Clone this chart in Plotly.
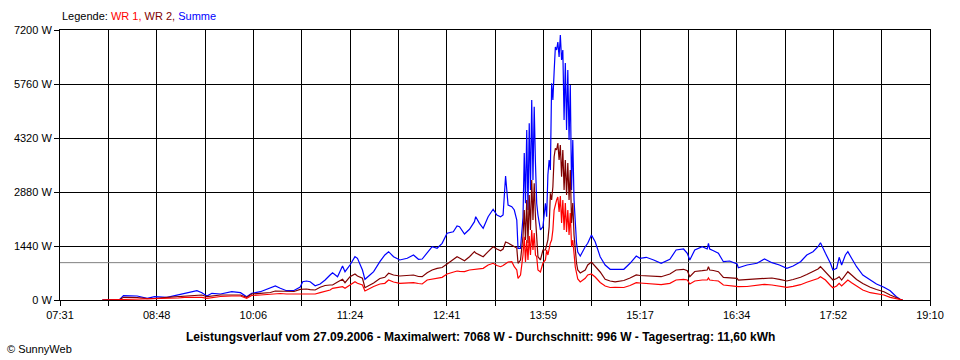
import plotly.graph_objects as go

# ---- data ----
times = [
    "08:05", "08:19", "08:22", "08:27", "08:33", "08:41", "08:47", "08:57", "09:06", "09:11",
    "09:21", "09:25", "09:29", "09:33", "09:40", "09:49", "09:56", "10:01", "10:05", "10:12",
    "10:20", "10:24", "10:28", "10:33", "10:39", "10:44", "10:46", "10:49", "10:52", "10:56",
    "11:00", "11:04", "11:08", "11:10", "11:14", "11:18", "11:20", "11:24", "11:28", "11:30",
    "11:34", "11:36", "11:40", "11:43", "11:48", "11:52", "11:55", "11:59", "12:04", "12:10",
    "12:15", "12:19", "12:22", "12:26", "12:30", "12:34", "12:38", "12:42", "12:47", "12:50",
    "12:52", "12:56", "13:00", "13:04", "13:05", "13:08", "13:11", "13:15", "13:19", "13:22",
    "13:25", "13:27", "13:29", "13:31", "13:34", "13:36", "13:38", "13:39", "13:41", "13:43",
    "13:44", "13:45", "13:46", "13:47", "13:48", "13:49", "13:50", "13:51", "13:52", "13:53",
    "13:54", "13:55", "13:57", "13:59", "14:01", "14:02", "14:03", "14:04", "14:05", "14:06",
    "14:07", "14:08", "14:09", "14:10", "14:11", "14:12", "14:13", "14:14", "14:15", "14:16",
    "14:17", "14:18", "14:19", "14:20", "14:21", "14:22", "14:23", "14:24", "14:25", "14:26",
    "14:27", "14:29", "14:33", "14:35", "14:38", "14:41", "14:45", "14:49", "14:53", "14:57",
    "15:04", "15:09", "15:14", "15:17", "15:22", "15:28", "15:34", "15:41", "15:46", "15:52",
    "15:55", "15:57", "16:01", "16:07", "16:11", "16:12", "16:13", "16:16", "16:20", "16:24",
    "16:29", "16:35", "16:36", "16:43", "16:51", "16:57", "17:03", "17:09", "17:15", "17:20",
    "17:26", "17:31", "17:36", "17:40", "17:42", "17:46", "17:50", "17:52", "17:55", "17:57",
    "17:59", "18:02", "18:04", "18:07", "18:11", "18:16", "18:22", "18:27", "18:33", "18:38",
    "18:43", "18:46", "18:48",
]

summe = [
    0, 13, 115, 115, 107, 45, 88, 72, 133, 179,
    248, 195, 107, 179, 160, 221, 195, 88, 179, 221,
    312, 373, 312, 248, 253, 347, 488, 507, 488, 381,
    427, 533, 667, 728, 621, 907, 755, 933, 1155, 1112,
    800, 552, 667, 755, 1021, 1200, 1288, 1155, 1067, 1112,
    1200, 1085, 1093, 1245, 1421, 1379, 1512, 1779, 1821, 1973,
    1955, 1760, 1885, 2088, 2221, 2045, 1912, 2221, 2419, 2267,
    2221, 2267, 3307, 2533, 2488, 2400, 2133, 1379, 1379, 2200,
    3920, 2579, 4533, 2400, 4712, 2933, 5333, 3200, 5155, 3653,
    2579, 2267, 1867, 1955, 2579, 2221, 3333, 3733, 3467, 5779,
    5333, 6080, 6747, 6667, 6880, 6480, 7068, 6400, 6667, 4800,
    6320, 4533, 6133, 4267, 5733, 2933, 4267, 2667, 2000, 1520,
    1280, 1173, 1421, 1512, 1733, 1555, 1155, 933, 819, 819,
    819, 979, 1173, 1112, 1139, 1067, 979, 1085, 1333, 1360,
    1245, 1067, 1333, 1421, 1360, 1512, 1360, 1315, 1245, 1021,
    1040, 960, 861, 933, 979, 1093, 995, 933, 845, 907,
    1021, 1200, 1288, 1421, 1528, 1245, 979, 800, 845, 1139,
    933, 1200, 1288, 1112, 888, 667, 533, 427, 339, 248,
    88, 19, 0,
]

wr2 = [
    0, 13, 72, 72, 67, 35, 40, 72, 93, 107,
    120, 133, 88, 107, 133, 133, 133, 72, 160, 179,
    200, 240, 240, 221, 227, 285, 293, 293, 275, 267,
    339, 387, 400, 400, 480, 552, 461, 621, 693, 640,
    579, 328, 400, 453, 573, 605, 712, 667, 640, 653,
    667, 627, 621, 728, 800, 845, 867, 960, 1080, 1155,
    1120, 1048, 1155, 1288, 1250, 1200, 1155, 1288, 1421, 1360,
    1315, 1360, 1547, 1520, 1467, 1440, 1387, 979, 1067, 1700,
    2400, 1600, 2667, 1520, 2800, 1867, 3200, 2133, 3112, 2221,
    1688, 1155, 1067, 1333, 1333, 1520, 1600, 1955, 2845, 2667,
    3021, 3821, 4045, 4000, 4187, 3733, 4133, 3288, 4000, 2933,
    3733, 2800, 3653, 2667, 3467, 2053, 2587, 1733, 1333, 987,
    800, 720, 800, 933, 1013, 907, 747, 552, 507, 485,
    520, 587, 667, 653, 640, 627, 621, 693, 800, 819,
    781, 621, 760, 781, 800, 888, 800, 787, 755, 605,
    595, 579, 533, 547, 560, 587, 587, 552, 507, 547,
    605, 680, 755, 827, 888, 747, 587, 533, 573, 621,
    533, 667, 755, 667, 547, 440, 339, 280, 221, 133,
    53, 19, 0,
]

wr1 = [
    0, 8, 27, 27, 27, 19, 35, 45, 53, 72,
    80, 72, 45, 67, 93, 107, 107, 45, 120, 133,
    152, 173, 173, 160, 160, 179, 160, 160, 160, 160,
    195, 240, 267, 312, 333, 355, 312, 400, 488, 445,
    400, 240, 312, 360, 427, 445, 533, 480, 445, 453,
    461, 440, 427, 533, 560, 568, 605, 693, 747, 773,
    765, 755, 800, 819, 825, 840, 845, 933, 979, 920,
    888, 920, 979, 1013, 1021, 888, 800, 579, 667, 1200,
    1688, 1013, 1600, 1067, 1707, 1200, 1867, 1333, 1787, 1200,
    1155, 800, 747, 987, 1067, 1333, 1200, 1421, 1520, 1600,
    1867, 2400, 2579, 2667, 2747, 2347, 2773, 2053, 2667, 1867,
    2587, 1813, 2400, 1733, 2320, 1421, 1600, 1120, 880, 720,
    560, 480, 579, 667, 693, 613, 467, 373, 333, 339,
    333, 387, 461, 453, 445, 427, 408, 445, 533, 552,
    533, 427, 507, 533, 533, 587, 533, 520, 507, 400,
    381, 365, 355, 360, 392, 419, 400, 373, 339, 365,
    408, 472, 533, 573, 621, 533, 387, 328, 373, 445,
    373, 480, 533, 461, 373, 267, 195, 160, 133, 72,
    35, 13, 0,
]

durchschnitt = 996
x_labels = ["07:31", "08:48", "10:06", "11:24", "12:41", "13:59", "15:17", "16:34", "17:52", "19:10"]
y_ticks = [0, 1440, 2880, 4320, 5760, 7200]
title_text = ("Leistungsverlauf vom 27.09.2006 - Maximalwert: 7068 W - "
              "Durchschnitt: 996 W - Tagesertrag: 11,60 kWh")


def to_min(s):
    h, m = s.split(":")
    return int(h) * 60 + int(m)


x = [to_min(t) for t in times]
x_start = to_min(x_labels[0])
x_end = to_min(x_labels[-1])
n_int = (len(x_labels) - 1) * 2
step = (x_end - x_start) / n_int
tickvals = [x_start + i * step for i in range(n_int + 1)]
ticktext = [x_labels[i // 2] if i % 2 == 0 else "" for i in range(n_int + 1)]

FONT = "Liberation Sans, Arial, sans-serif"

fig = go.Figure()
fig.add_trace(go.Scatter(x=[x_start, x_end], y=[durchschnitt, durchschnitt], mode="lines",
                         line=dict(color="#808080", width=1), hoverinfo="skip"))
fig.add_trace(go.Scatter(x=x, y=summe, mode="lines", name="Summe",
                         line=dict(color="#0000FF", width=1.2)))
fig.add_trace(go.Scatter(x=x, y=wr2, mode="lines", name="WR 2",
                         line=dict(color="#800000", width=1.2)))
fig.add_trace(go.Scatter(x=x, y=wr1, mode="lines", name="WR 1",
                         line=dict(color="#FF0000", width=1.2)))

fig.update_layout(
    width=960, height=360,
    margin=dict(l=60, r=30, t=30, b=60),
    paper_bgcolor="white", plot_bgcolor="white",
    showlegend=False,
    font=dict(family=FONT, size=11, color="black"),
    xaxis=dict(
        range=[x_start, x_end], tickmode="array", tickvals=tickvals, ticktext=ticktext,
        showgrid=True, gridcolor="black", gridwidth=1,
        showline=True, linecolor="black", linewidth=1, mirror=True,
        ticks="outside", ticklen=5, tickcolor="black", zeroline=False,
        tickfont=dict(family=FONT, size=11, color="black"),
    ),
    yaxis=dict(
        range=[0, 7200], tickmode="array", tickvals=y_ticks,
        ticktext=[f"{v} W" for v in y_ticks],
        showgrid=True, gridcolor="black", gridwidth=1,
        showline=True, linecolor="black", linewidth=1, mirror=True,
        ticks="outside", ticklen=5, tickcolor="black", zeroline=False,
        tickfont=dict(family=FONT, size=11, color="black"),
    ),
)

fig.add_annotation(
    xref="paper", yref="paper", x=0, y=1 + 14 / 270, xanchor="left", yanchor="middle",
    showarrow=False, font=dict(family=FONT, size=11, color="black"),
    text=("Legende: <span style='color:#FF0000'>WR 1,</span> "
          "<span style='color:#800000'>WR 2,</span> "
          "<span style='color:#0000FF'>Summe</span>"),
)
fig.add_annotation(
    xref="paper", yref="paper", x=(480 - 60) / 870, y=-37 / 270, xanchor="center", yanchor="middle",
    showarrow=False, font=dict(family=FONT, size=12, color="black"),
    text=f"<b>{title_text}</b>",
)
fig.add_annotation(
    xref="paper", yref="paper", x=-55 / 870, y=-49 / 270, xanchor="left", yanchor="middle",
    showarrow=False, font=dict(family=FONT, size=11, color="black"),
    text="© SunnyWeb",
)

fig.write_html("out.html", config={"displayModeBar": False},
               post_script="document.body.style.margin='0px';")
